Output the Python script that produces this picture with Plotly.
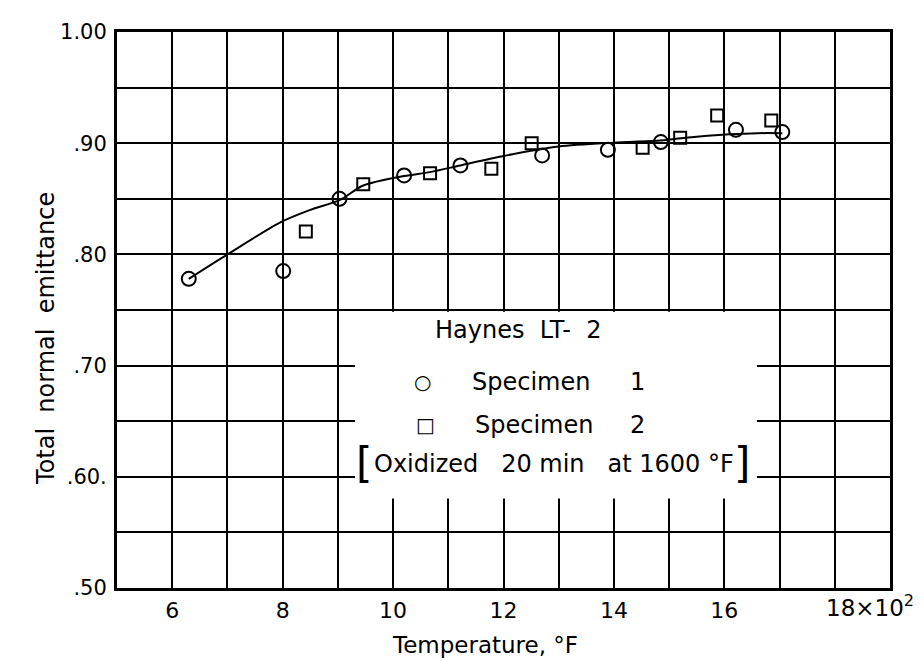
import plotly.graph_objects as go

# Specimen 1 (open circles)
spec1_temp = [6.30, 8.01, 9.03, 10.20, 11.22, 12.70, 13.89, 14.85, 16.21, 17.05]
spec1_emit = [0.778, 0.785, 0.850, 0.871, 0.880, 0.889, 0.894, 0.901, 0.912, 0.910]

# Specimen 2 (open squares)
spec2_temp = [8.42, 9.46, 10.67, 11.78, 12.51, 14.52, 15.20, 15.87, 16.85]
spec2_emit = [0.8205, 0.863, 0.873, 0.877, 0.900, 0.896, 0.905, 0.925, 0.9205]

# faired curve through the data
curve_temp = [6.30, 7.00, 7.95, 8.50, 9.04, 9.46, 10.20, 10.67, 11.22, 12.00,
              13.00, 14.00, 14.85, 15.30, 16.10, 16.60, 17.05]
curve_emit = [0.778, 0.800, 0.8286, 0.840, 0.849, 0.862, 0.8705, 0.874, 0.880, 0.8885,
              0.897, 0.9005, 0.9025, 0.905, 0.908, 0.909, 0.909]

# tick labels
x_ticks = [6, 8, 10, 12, 14, 16]
x_labels = ["6", "8", "10", "12", "14", "16"]
y_ticks = [0.50, 0.60, 0.70, 0.80, 0.90, 1.00]
y_labels = [".50", ".60.", ".70", ".80", ".90", "1.00"]

FONT = "DejaVu Sans"

fig = go.Figure()

fig.add_trace(go.Scatter(
    x=curve_temp, y=curve_emit, mode="lines",
    line=dict(color="black", width=2, shape="spline", smoothing=0.8),
    hoverinfo="skip"))

fig.add_trace(go.Scatter(
    x=spec1_temp, y=spec1_emit, mode="markers", name="Specimen 1",
    marker=dict(symbol="circle-open", size=14, color="black", line=dict(width=2))))

fig.add_trace(go.Scatter(
    x=spec2_temp, y=spec2_emit, mode="markers", name="Specimen 2",
    marker=dict(symbol="square-open", size=12, color="black", line=dict(width=2))))

# white box that holds the key (covers the grid)
fig.add_shape(type="rect", xref="x", yref="y", x0=9.31, x1=16.59, y0=0.5804, y1=0.7485,
              fillcolor="white", line=dict(width=0), layer="above")

txt = dict(family=FONT, size=24, color="black")
sym = dict(family=FONT, size=20, color="black")
brk = dict(family=FONT, size=42, color="black")
notes = [
    dict(x=10.72, y=0.732, text="Haynes  LT-  2", xanchor="left"),
    dict(x=10.54, y=0.6857, text="○", xanchor="center", font=sym),
    dict(x=11.39, y=0.6857, text="Specimen", xanchor="left"),
    dict(x=14.42, y=0.6857, text="1", xanchor="center"),
    dict(x=10.58, y=0.6464, text="□", xanchor="center", font=sym),
    dict(x=11.45, y=0.6464, text="Specimen", xanchor="left"),
    dict(x=14.42, y=0.6464, text="2", xanchor="center"),
    dict(x=9.62, y=0.6116, text="Oxidized   20 min   at 1600 °F", xanchor="left"),
    dict(x=9.47, y=0.6116, text="[", xanchor="center", font=brk),
    dict(x=16.32, y=0.6116, text="]", xanchor="center", font=brk),
]
for n in notes:
    n.setdefault("font", txt)
    fig.add_annotation(xref="x", yref="y", showarrow=False, yanchor="middle", **n)

# axis titles and the multiplier on the last x label
fig.add_annotation(xref="paper", yref="paper", x=-0.1125, y=0.448, text="Total  normal  emittance",
                   textangle=-90, showarrow=False, font=dict(family=FONT, size=24, color="black"))
fig.add_annotation(xref="paper", yref="paper", x=0.476, y=-0.102, text="Temperature, °F",
                   showarrow=False, font=dict(family=FONT, size=23, color="black"), yanchor="middle")
fig.add_annotation(xref="x", yref="paper", x=17.80, y=-0.033, text="18×10<sup>2</sup>",
                   showarrow=False, font=dict(family=FONT, size=23, color="black"),
                   xanchor="left", yanchor="middle")

fig.update_xaxes(
    range=[5, 19], tickmode="array", tickvals=x_ticks, ticktext=x_labels,
    showgrid=True, gridcolor="black", gridwidth=2, zeroline=False,
    minor=dict(tick0=5, dtick=1, showgrid=True, gridcolor="black", gridwidth=2),
    showline=True, linecolor="black", linewidth=3, mirror=True,
    ticks="outside", ticklen=1, tickcolor="rgba(0,0,0,0)",
    tickfont=dict(family=FONT, size=22, color="black"))

fig.update_yaxes(
    range=[0.5, 1.0], tickmode="array", tickvals=y_ticks, ticktext=y_labels,
    showgrid=True, gridcolor="black", gridwidth=2, zeroline=False,
    minor=dict(tick0=0.5, dtick=0.05, showgrid=True, gridcolor="black", gridwidth=2),
    showline=True, linecolor="black", linewidth=3, mirror=True,
    ticks="outside", ticklen=3, tickcolor="rgba(0,0,0,0)",
    tickfont=dict(family=FONT, size=21, color="black"))

# the page body adds an 8 px margin, so the figure is 8 px smaller than the window
fig.update_layout(
    width=916, height=653,
    margin=dict(l=109, r=34, t=20, b=73),
    paper_bgcolor="white", plot_bgcolor="white",
    showlegend=False,
    font=dict(family=FONT, color="black"))

fig.write_html("out.html")
